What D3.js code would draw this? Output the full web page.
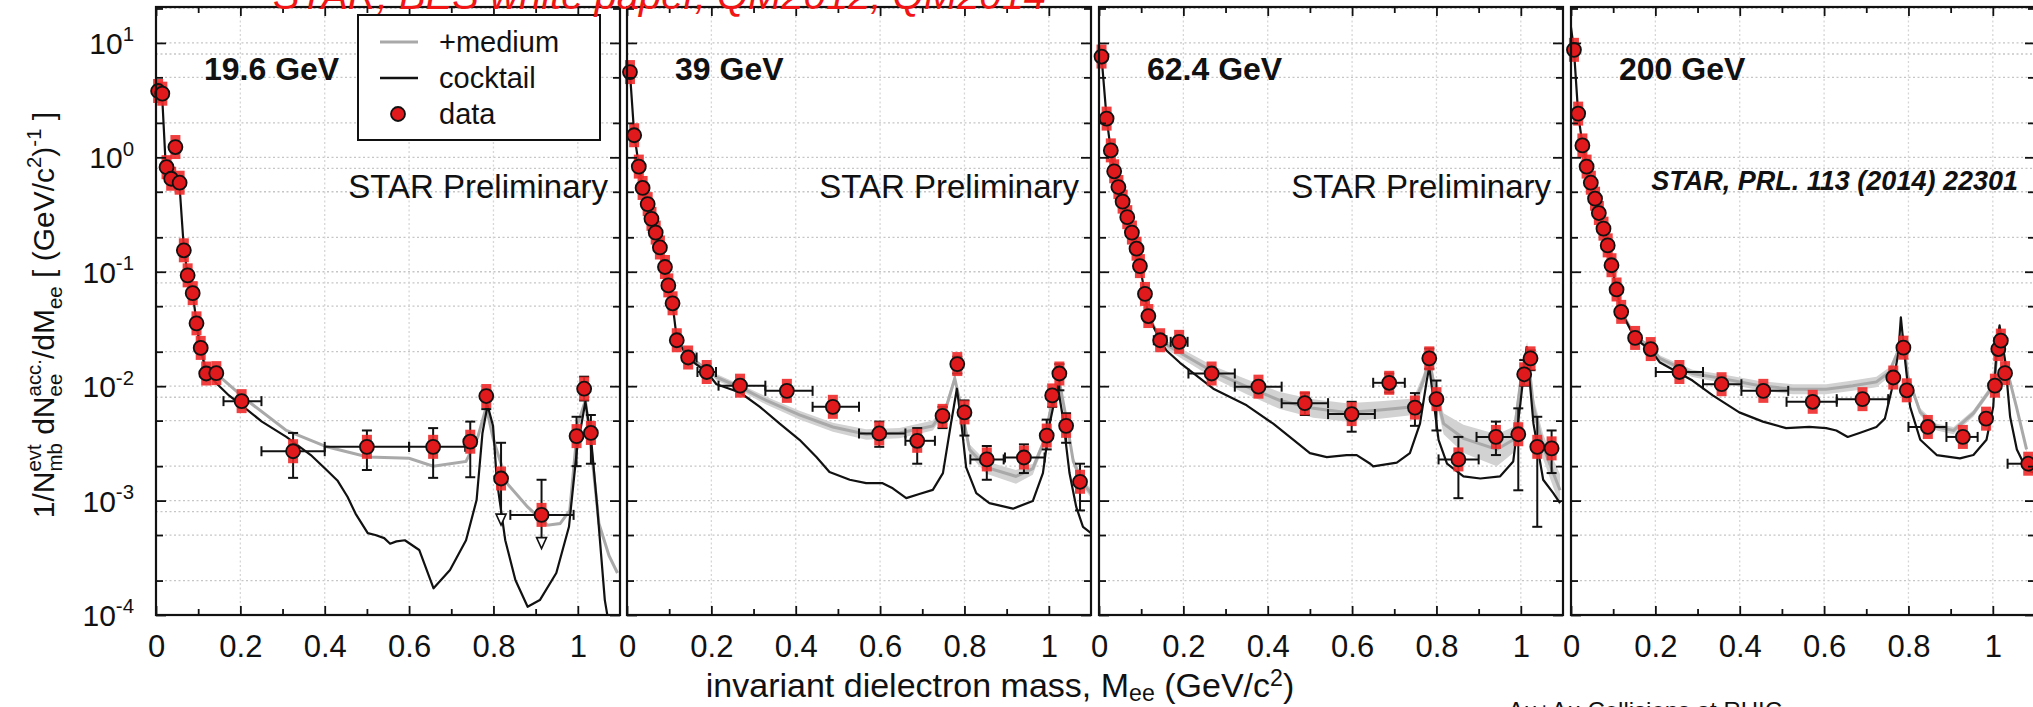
<!DOCTYPE html>
<html>
<head>
<meta charset="utf-8">
<script src="https://cdn.jsdelivr.net/npm/d3@7"></script>
<style>
  body { margin: 0; background: #fff; }
  svg { display: block; font-family: "Liberation Sans", Arial, Helvetica, sans-serif; }
  text { white-space: pre; }
</style>
</head>
<body>
<svg id="chart" width="2033" height="707"></svg>
<script>
// ---- panel texts ----
const energies = ["19.6 GeV", "39 GeV", "62.4 GeV", "200 GeV"];
const notes = ["STAR Preliminary", "STAR Preliminary", "STAR Preliminary", "STAR, PRL. 113 (2014) 22301"];
const legendLabels = ["+medium", "cocktail", "data"];

// ---- axis ticks ----
const xTickValues = [0, 0.2, 0.4, 0.6, 0.8, 1.0];
const xTickLabels = ["0", "0.2", "0.4", "0.6", "0.8", "1"];
const xMinorTicks = [0.1, 0.3, 0.5, 0.7, 0.9];
const xGridValues = [0.2, 0.4, 0.6, 0.8, 1.0];
const yDecadeExponents = [1, 0, -1, -2, -3, -4];
const yGridMantissas = [1, 2, 5, 8];
const yMinorMantissas = [2, 5];

// ---- measured spectra: [mass, yield, yLow, yHigh, xLow, xHigh, upperLimit] ----
const data196 = [
  [0.005, 3.8], [0.015, 3.6], [0.025, 0.82], [0.036, 0.65], [0.046, 1.23], [0.056, 0.60],
  [0.066, 0.154], [0.075, 0.093], [0.087, 0.065], [0.096, 0.0354], [0.106, 0.0216],
  [0.119, 0.0129], [0.143, 0.0130],
  [0.203, 0.0074, null, null, 0.16, 0.25],
  [0.325, 0.0027, 0.00158, 0.0039, 0.25, 0.40],
  [0.50, 0.00295, 0.00185, 0.0041, 0.40, 0.60],
  [0.657, 0.00295, 0.00158, 0.0043, 0.60, 0.733],
  [0.745, 0.00327, 0.0016, 0.0049, 0.733, 0.758],
  [0.783, 0.0082, 0.0063, 0.0092],
  [0.818, 0.00156, 0.00061, 0.0032, null, null, 1],
  [0.914, 0.00075, 0.00038, 0.00152, 0.84, 0.99, 1],
  [0.997, 0.00366, 0.0020, 0.0054],
  [1.015, 0.0095, 0.0075, 0.0121],
  [1.031, 0.0039, 0.0021, 0.0056]
];
const data39 = [
  [0.007, 5.56], [0.017, 1.56], [0.028, 0.83], [0.037, 0.54], [0.049, 0.39], [0.058, 0.29],
  [0.068, 0.22], [0.078, 0.163], [0.090, 0.110], [0.098, 0.076], [0.108, 0.053], [0.118, 0.0252],
  [0.145, 0.0178, null, null, 0.134, 0.165],
  [0.189, 0.0133, null, null, 0.167, 0.211],
  [0.268, 0.0101, null, null, 0.217, 0.328],
  [0.379, 0.0091, null, null, 0.328, 0.44],
  [0.488, 0.0066, null, null, 0.44, 0.55],
  [0.598, 0.00386, 0.00295, 0.0049, 0.55, 0.66],
  [0.688, 0.00333, 0.0021, 0.0043, 0.66, 0.73],
  [0.748, 0.0055, 0.0043, 0.0066],
  [0.783, 0.0156, 0.0129, 0.0181],
  [0.800, 0.0059, 0.0037, 0.0075],
  [0.853, 0.00229, 0.00152, 0.0030, 0.814, 0.893],
  [0.941, 0.00238, 0.00174, 0.0031, 0.896, 0.99],
  [0.995, 0.0037, 0.0028, 0.0051],
  [1.008, 0.0083, 0.0066, 0.0092],
  [1.025, 0.0129, 0.0092, 0.0156],
  [1.041, 0.0045, 0.0032, 0.0058],
  [1.074, 0.00146, 0.00082, 0.0021]
];
const data624 = [
  [0.006, 7.6], [0.018, 2.18], [0.028, 1.15], [0.036, 0.755], [0.046, 0.55], [0.056, 0.41],
  [0.067, 0.30], [0.078, 0.22], [0.089, 0.159], [0.097, 0.112], [0.109, 0.064], [0.117, 0.041],
  [0.145, 0.0252, null, null, 0.13, 0.16],
  [0.190, 0.0244, null, null, 0.17, 0.21],
  [0.267, 0.0129, null, null, 0.212, 0.322],
  [0.378, 0.0099, null, null, 0.322, 0.433],
  [0.488, 0.0071, 0.0056, 0.0087, 0.433, 0.543],
  [0.599, 0.0057, 0.0040, 0.0073, 0.543, 0.654],
  [0.688, 0.0107, 0.0088, 0.0129, 0.65, 0.725],
  [0.749, 0.0065, 0.0045, 0.0087],
  [0.783, 0.0175, 0.0142, 0.0213],
  [0.800, 0.0077, 0.0041, 0.0112],
  [0.852, 0.00229, 0.00105, 0.0036, 0.805, 0.90],
  [0.941, 0.0036, 0.0025, 0.0049, 0.895, 0.99],
  [0.994, 0.0038, 0.00123, 0.0064],
  [1.008, 0.0127, 0.0101, 0.0169],
  [1.023, 0.0175, 0.0138, 0.0206],
  [1.039, 0.00295, 0.00059, 0.0054],
  [1.073, 0.00286, 0.00174, 0.0041]
];
const data200 = [
  [0.007, 8.7], [0.017, 2.41], [0.027, 1.27], [0.037, 0.83], [0.047, 0.60], [0.057, 0.435],
  [0.066, 0.326], [0.077, 0.238], [0.087, 0.170], [0.096, 0.114], [0.108, 0.070], [0.119, 0.0446],
  [0.152, 0.0264], [0.189, 0.0211],
  [0.257, 0.0133, null, null, 0.201, 0.313],
  [0.357, 0.0104, null, null, 0.313, 0.404],
  [0.456, 0.0091, null, null, 0.404, 0.515],
  [0.573, 0.0073, null, null, 0.511, 0.63],
  [0.691, 0.0077, null, null, 0.63, 0.752],
  [0.764, 0.0119], [0.788, 0.0217], [0.796, 0.0092],
  [0.846, 0.0044, null, null, 0.80, 0.89],
  [0.929, 0.0036, null, null, 0.89, 0.964],
  [0.984, 0.0052], [1.005, 0.0101], [1.013, 0.0211], [1.019, 0.0250], [1.029, 0.0130],
  [1.084, 0.0021, null, null, 1.035, 1.1]
];

// ---- hadronic cocktail: [mass, yield] ----
const cocktail196 = [
  [0.0, 4.3], [0.005, 3.8], [0.015, 3.2], [0.022, 1.0], [0.03, 0.75], [0.045, 0.62], [0.056, 0.55],
  [0.066, 0.16], [0.075, 0.095], [0.087, 0.065], [0.096, 0.036], [0.104, 0.022], [0.119, 0.0135],
  [0.143, 0.0106], [0.173, 0.0083], [0.212, 0.0064], [0.251, 0.0049], [0.309, 0.0036],
  [0.367, 0.0025], [0.405, 0.00184], [0.43, 0.00150], [0.454, 0.00108], [0.473, 0.00077],
  [0.502, 0.00052], [0.52, 0.00050], [0.541, 0.00047], [0.555, 0.00042], [0.570, 0.00044],
  [0.590, 0.00045], [0.624, 0.00037], [0.658, 0.000171], [0.697, 0.000247], [0.735, 0.00045],
  [0.760, 0.00101], [0.774, 0.0039], [0.786, 0.0068], [0.799, 0.0045], [0.808, 0.0015],
  [0.828, 0.00045], [0.852, 0.000202], [0.881, 0.000118], [0.910, 0.000135], [0.949, 0.000233],
  [0.979, 0.00059], [0.998, 0.0028], [1.018, 0.0073], [1.031, 0.0036], [1.046, 0.00088],
  [1.064, 0.000135], [1.08, 0.00006]
];
const cocktail39 = [
  [0.0, 7.0], [0.007, 5.5], [0.017, 1.6], [0.028, 0.85], [0.037, 0.55], [0.049, 0.40], [0.058, 0.30],
  [0.068, 0.22], [0.078, 0.165], [0.090, 0.11], [0.098, 0.078], [0.108, 0.052], [0.118, 0.026],
  [0.145, 0.0175], [0.189, 0.0133], [0.212, 0.0104], [0.268, 0.0088], [0.315, 0.0066],
  [0.362, 0.0047], [0.409, 0.0034], [0.449, 0.0024], [0.480, 0.00178], [0.528, 0.00152],
  [0.567, 0.00142], [0.606, 0.00142], [0.630, 0.00128], [0.662, 0.00105], [0.693, 0.00114],
  [0.725, 0.00124], [0.749, 0.00174], [0.768, 0.0047], [0.782, 0.0095], [0.792, 0.0050],
  [0.804, 0.00195], [0.828, 0.00116], [0.859, 0.00095], [0.915, 0.00085], [0.962, 0.00099],
  [0.986, 0.00174], [1.002, 0.0047], [1.021, 0.0101], [1.033, 0.0054], [1.049, 0.00174],
  [1.065, 0.00088], [1.081, 0.00059], [1.1, 0.00052]
];
const cocktail624 = [
  [0.0, 9.5], [0.006, 7.6], [0.018, 2.2], [0.028, 1.15], [0.036, 0.76], [0.046, 0.55], [0.056, 0.41],
  [0.067, 0.30], [0.078, 0.22], [0.089, 0.16], [0.097, 0.112], [0.109, 0.064], [0.117, 0.041],
  [0.145, 0.025], [0.16, 0.0205], [0.192, 0.0160], [0.271, 0.0095], [0.350, 0.0068],
  [0.413, 0.0047], [0.461, 0.0034], [0.500, 0.0026], [0.540, 0.0024], [0.587, 0.0025],
  [0.611, 0.0025], [0.643, 0.0021], [0.650, 0.00199], [0.706, 0.00215], [0.737, 0.0026],
  [0.761, 0.0047], [0.777, 0.0112], [0.783, 0.0147], [0.793, 0.0075], [0.805, 0.0034],
  [0.825, 0.0021], [0.864, 0.00163], [0.904, 0.00156], [0.951, 0.00163], [0.982, 0.0022],
  [0.998, 0.0066], [1.014, 0.022], [1.030, 0.0047], [1.053, 0.00152], [1.077, 0.00116],
  [1.093, 0.00095]
];
const cocktail200 = [
  [0.0, 13.7], [0.007, 8.7], [0.017, 2.4], [0.027, 1.3], [0.037, 0.85], [0.047, 0.61], [0.057, 0.44],
  [0.066, 0.33], [0.077, 0.24], [0.087, 0.17], [0.096, 0.115], [0.108, 0.070], [0.119, 0.045],
  [0.152, 0.026], [0.19, 0.0205], [0.21, 0.0162], [0.288, 0.0112], [0.336, 0.0083],
  [0.399, 0.0059], [0.455, 0.0049], [0.510, 0.0043], [0.565, 0.0044], [0.605, 0.0043],
  [0.629, 0.0041], [0.656, 0.0036], [0.684, 0.0039], [0.724, 0.0044], [0.744, 0.0052],
  [0.760, 0.0092], [0.776, 0.0194], [0.782, 0.040], [0.792, 0.0169], [0.804, 0.0066],
  [0.828, 0.0034], [0.867, 0.0025], [0.922, 0.00234], [0.954, 0.0025], [0.985, 0.0034],
  [1.001, 0.0066], [1.010, 0.025], [1.016, 0.034], [1.029, 0.0169], [1.041, 0.0054],
  [1.057, 0.0028], [1.081, 0.00184], [1.1, 0.00174]
];

// ---- cocktail + in-medium rho: [mass, yield, bandLow, bandHigh] ----
const medium196 = [
  [0.096, 0.036], [0.106, 0.022], [0.119, 0.0135], [0.143, 0.0129], [0.212, 0.0077], [0.309, 0.0041],
  [0.405, 0.00295], [0.502, 0.0024], [0.60, 0.00234], [0.657, 0.0020], [0.735, 0.0022],
  [0.763, 0.0036], [0.783, 0.0066], [0.80, 0.0034], [0.833, 0.0014], [0.881, 0.00088],
  [0.928, 0.00061], [0.958, 0.00063], [0.981, 0.00082], [1.0, 0.0047], [1.018, 0.0075],
  [1.032, 0.0028], [1.05, 0.00063], [1.074, 0.00033], [1.094, 0.000233]
];
const medium39 = [
  [0.118, 0.026], [0.145, 0.0185], [0.189, 0.0140],
  [0.212, 0.0120, 0.0112, 0.0128], [0.275, 0.0095, 0.0089, 0.0101], [0.33, 0.0075, 0.0069, 0.0081],
  [0.409, 0.0056, 0.0051, 0.0061], [0.488, 0.0044, 0.0040, 0.0048], [0.567, 0.0038, 0.0034, 0.0042],
  [0.646, 0.0039, 0.0035, 0.0043], [0.725, 0.0045, 0.0041, 0.0050], [0.757, 0.0066, 0.0060, 0.0072],
  [0.777, 0.0117, 0.0105, 0.0128], [0.792, 0.0066, 0.0060, 0.0072], [0.812, 0.0028, 0.0025, 0.0031],
  [0.852, 0.00195, 0.00172, 0.0022], [0.922, 0.00163, 0.00140, 0.00185], [0.962, 0.0019, 0.00168, 0.0021],
  [0.99, 0.0034, 0.0031, 0.0037], [1.01, 0.0081, 0.0075, 0.0087], [1.025, 0.0110, 0.0102, 0.0118],
  [1.039, 0.0058, 0.0053, 0.0063], [1.058, 0.0022, 0.0020, 0.0024], [1.081, 0.00142, 0.00130, 0.00155],
  [1.1, 0.00116, 0.00106, 0.00126]
];
const medium624 = [
  [0.117, 0.041], [0.145, 0.026], [0.16, 0.023, 0.021, 0.025],
  [0.271, 0.0133, 0.0118, 0.0150], [0.350, 0.0099, 0.0085, 0.0115], [0.429, 0.0075, 0.0063, 0.0089],
  [0.508, 0.0064, 0.0053, 0.0077], [0.587, 0.0059, 0.0049, 0.0071], [0.666, 0.0062, 0.0052, 0.0074],
  [0.745, 0.0066, 0.0056, 0.0078], [0.769, 0.0112, 0.0098, 0.0128], [0.783, 0.0169, 0.0150, 0.0190],
  [0.797, 0.0092, 0.0080, 0.0106], [0.817, 0.0047, 0.0038, 0.0058], [0.864, 0.0035, 0.0026, 0.0046],
  [0.943, 0.0028, 0.0020, 0.0038], [0.982, 0.0034, 0.0026, 0.0044], [1.002, 0.0129, 0.0110, 0.0150],
  [1.015, 0.0217, 0.0190, 0.0245], [1.030, 0.0066, 0.0055, 0.0080], [1.053, 0.00295, 0.0023, 0.0038],
  [1.077, 0.00174, 0.0013, 0.0023], [1.093, 0.00123, 0.0009, 0.0017]
];
const medium200 = [
  [0.119, 0.045], [0.152, 0.027], [0.19, 0.022, 0.021, 0.023], [0.21, 0.0175, 0.0165, 0.0186],
  [0.288, 0.0129, 0.0120, 0.0139], [0.357, 0.0117, 0.0107, 0.0127], [0.447, 0.0101, 0.0092, 0.0111],
  [0.526, 0.0094, 0.0085, 0.0104], [0.605, 0.0094, 0.0085, 0.0104], [0.668, 0.0101, 0.0091, 0.0112],
  [0.724, 0.0109, 0.0098, 0.0121], [0.755, 0.0133, 0.0121, 0.0146], [0.776, 0.0205, 0.019, 0.022],
  [0.786, 0.028, 0.026, 0.030], [0.799, 0.0120, 0.0111, 0.0130], [0.828, 0.0059, 0.0055, 0.0064],
  [0.867, 0.0044, 0.0041, 0.0047], [0.907, 0.0041, 0.0038, 0.0044], [0.954, 0.0058, 0.0054, 0.0062],
  [1.001, 0.0101, 0.0095, 0.0108], [1.015, 0.025, 0.0235, 0.0265], [1.032, 0.0147, 0.0138, 0.0156],
  [1.056, 0.0066, 0.0062, 0.0070], [1.08, 0.0028, 0.0026, 0.0030]
];

const panels = [
  { label: energies[0], note: notes[0], data: data196, cocktail: cocktail196, medium: medium196 },
  { label: energies[1], note: notes[1], data: data39, cocktail: cocktail39, medium: medium39 },
  { label: energies[2], note: notes[2], data: data624, cocktail: cocktail624, medium: medium624 },
  { label: energies[3], note: notes[3], data: data200, cocktail: cocktail200, medium: medium200 }
];

// ---- layout ----
const W = 2033, H = 707;
const PANEL_LEFT = [156, 627, 1099, 1571];
const PANEL_W = 464, TOP = 7, BOTTOM = 615;
const X_MAX = 1.1, Y_MIN = 1e-4, Y_MAX = 20.6;
const INK = "#111";
const RED = "#e0191c";

const svg = d3.select("#chart");
svg.append("rect").attr("width", W).attr("height", H).attr("fill", "#fff");
const defs = svg.append("defs");

const y = d3.scaleLog().domain([Y_MIN, Y_MAX]).range([BOTTOM, TOP]);

const gridY = [];
const minorY = [];
yDecadeExponents.forEach(e => {
  yGridMantissas.forEach(m => { const v = m * Math.pow(10, e); if (v >= Y_MIN && v <= Y_MAX) gridY.push(v); });
  yMinorMantissas.forEach(m => { const v = m * Math.pow(10, e); if (v >= Y_MIN && v <= Y_MAX) minorY.push(v); });
});
const decadeY = yDecadeExponents.map(e => Math.pow(10, e));

// text with super/subscripts; segments: {t,k:'n'|'sup'|'sub'} or {sup,sub,k:'stack'}
function richText(parent, segs, size, attrs, subShift, supShift) {
  const text = parent.append("text").attr("font-size", size);
  Object.entries(attrs || {}).forEach(([k, v]) => text.attr(k, v));
  const small = size * 0.68;
  const subDy = size * (subShift ?? 0.26);
  const supDy = -size * (supShift ?? 0.42);
  let cur = 0, pendingDx = 0;
  function add(str, fs, shift) {
    const ts = text.append("tspan").attr("font-size", fs).text(str);
    const dy = shift - cur;
    if (dy) ts.attr("dy", dy);
    cur = shift;
    if (pendingDx) { ts.attr("dx", pendingDx); pendingDx = 0; }
    return ts;
  }
  segs.forEach(s => {
    if (s.k === "n") add(s.t, size, 0);
    else if (s.k === "sup") add(s.t, small, supDy);
    else if (s.k === "sub") add(s.t, small, subDy);
    else if (s.k === "stack") {
      const a = add(s.sup, small, supDy);
      const wa = a.node().getComputedTextLength();
      const b = add(s.sub, small, subDy);
      b.attr("dx", -wa);
      const wb = b.node().getComputedTextLength();
      if (wa > wb) pendingDx = wa - wb;
    }
  });
  return text;
}

function styleAxis(g) {
  g.select(".domain").remove();
  g.attr("font-family", null).attr("font-size", 31).attr("color", INK);
  g.selectAll(".tick line").attr("stroke-width", 1.8);
  g.selectAll(".tick text").attr("fill", INK);
}

panels.forEach((p, i) => {
  const left = PANEL_LEFT[i], right = left + PANEL_W;
  const x = d3.scaleLinear().domain([0, X_MAX]).range([left, right]);
  const g = svg.append("g");

  defs.append("clipPath").attr("id", "clip" + i)
    .append("rect").attr("x", left).attr("y", TOP).attr("width", PANEL_W).attr("height", BOTTOM - TOP);

  // grid
  const grid = g.append("g").attr("stroke", "#c6c6c6").attr("stroke-width", 1.3).attr("stroke-dasharray", "2,2.5");
  grid.selectAll("line.h").data(gridY).join("line").attr("class", "h")
    .attr("x1", left).attr("x2", right).attr("y1", d => y(d)).attr("y2", d => y(d));
  grid.selectAll("line.v").data(xGridValues).join("line").attr("class", "v")
    .attr("stroke", "#d6d6d6")
    .attr("x1", d => x(d)).attr("x2", d => x(d)).attr("y1", TOP).attr("y2", BOTTOM);

  const plot = g.append("g").attr("clip-path", `url(#clip${i})`);

  // medium band and line
  const med = p.medium.map(r => ({ m: r[0], v: r[1], lo: r[2] ?? r[1], hi: r[3] ?? r[1] }));
  plot.append("path").datum(med)
    .attr("d", d3.area().x(d => x(d.m)).y0(d => y(d.lo)).y1(d => y(d.hi)))
    .attr("fill", "#d2d2d2");
  plot.append("path").datum(med)
    .attr("d", d3.line().x(d => x(d.m)).y(d => y(d.v)))
    .attr("fill", "none").attr("stroke", "#a9a9a9").attr("stroke-width", 3);

  // cocktail
  plot.append("path").datum(p.cocktail)
    .attr("d", d3.line().x(d => x(d[0])).y(d => y(d[1])))
    .attr("fill", "none").attr("stroke", INK).attr("stroke-width", 2.2).attr("stroke-linejoin", "round");

  // data
  const pts = p.data.map(r => ({ m: r[0], v: r[1], ylo: r[2] ?? null, yhi: r[3] ?? null, xlo: r[4] ?? null, xhi: r[5] ?? null, lim: !!r[6] }));
  const eb = g.append("g").attr("stroke", INK).attr("stroke-width", 2).attr("fill", "none");
  pts.forEach(d => {
    const cx = x(d.m), cy = y(d.v);
    if (d.xlo !== null) {
      eb.append("line").attr("x1", x(d.xlo)).attr("x2", x(d.xhi)).attr("y1", cy).attr("y2", cy);
      eb.append("line").attr("x1", x(d.xlo)).attr("x2", x(d.xlo)).attr("y1", cy - 5).attr("y2", cy + 5);
      eb.append("line").attr("x1", x(d.xhi)).attr("x2", x(d.xhi)).attr("y1", cy - 5).attr("y2", cy + 5);
    }
    if (d.yhi !== null) {
      const t = y(d.yhi), b = y(d.ylo);
      eb.append("line").attr("x1", cx).attr("x2", cx).attr("y1", t).attr("y2", d.lim ? b - 11 : b);
      eb.append("line").attr("x1", cx - 5).attr("x2", cx + 5).attr("y1", t).attr("y2", t);
      if (d.lim) {
        eb.append("path").attr("d", `M${cx - 5},${b - 11}L${cx + 5},${b - 11}L${cx},${b}Z`)
          .attr("fill", "#fff").attr("stroke-width", 1.6);
      } else {
        eb.append("line").attr("x1", cx - 5).attr("x2", cx + 5).attr("y1", b).attr("y2", b);
      }
    }
  });
  // systematic boxes
  g.append("g").selectAll("rect").data(pts).join("rect")
    .attr("x", d => x(d.m) - 5).attr("y", d => y(d.v) - 12)
    .attr("width", 10).attr("height", 24).attr("fill", "#f02a2a").attr("opacity", 0.9);
  g.append("g").selectAll("circle").data(pts).join("circle")
    .attr("cx", d => x(d.m)).attr("cy", d => y(d.v)).attr("r", 7)
    .attr("fill", RED).attr("stroke", INK).attr("stroke-width", 1.8);

  // axes
  g.append("g").attr("transform", `translate(0,${BOTTOM})`)
    .call(d3.axisBottom(x).tickValues(xTickValues).tickFormat((d, k) => xTickLabels[k]).tickSize(-9).tickPadding(20))
    .call(styleAxis);
  g.append("g").attr("transform", `translate(0,${BOTTOM})`)
    .call(d3.axisBottom(x).tickValues(xMinorTicks).tickFormat("").tickSize(-6)).call(styleAxis);
  g.append("g").attr("transform", `translate(0,${TOP})`)
    .call(d3.axisTop(x).tickValues(xTickValues).tickFormat("").tickSize(-9)).call(styleAxis);
  g.append("g").attr("transform", `translate(0,${TOP})`)
    .call(d3.axisTop(x).tickValues(xMinorTicks).tickFormat("").tickSize(-6)).call(styleAxis);
  g.append("g").attr("transform", `translate(${left},0)`)
    .call(d3.axisLeft(y).tickValues(decadeY).tickFormat("").tickSize(-10)).call(styleAxis);
  g.append("g").attr("transform", `translate(${left},0)`)
    .call(d3.axisLeft(y).tickValues(minorY).tickFormat("").tickSize(-7)).call(styleAxis);
  g.append("g").attr("transform", `translate(${right},0)`)
    .call(d3.axisRight(y).tickValues(decadeY).tickFormat("").tickSize(-10)).call(styleAxis);
  g.append("g").attr("transform", `translate(${right},0)`)
    .call(d3.axisRight(y).tickValues(minorY).tickFormat("").tickSize(-7)).call(styleAxis);

  // frame
  g.append("rect").attr("x", left).attr("y", TOP).attr("width", PANEL_W).attr("height", BOTTOM - TOP)
    .attr("fill", "none").attr("stroke", INK).attr("stroke-width", 2.2);

  // labels
  g.append("text").attr("x", left + 48).attr("y", 80).attr("font-size", 32).attr("font-weight", "bold")
    .attr("fill", INK).text(p.label);
  if (i < 3) {
    g.append("text").attr("x", right - 12).attr("y", 198).attr("text-anchor", "end")
      .attr("font-size", 33).attr("fill", INK).text(p.note);
  } else {
    g.append("text").attr("x", left + 447).attr("y", 190).attr("text-anchor", "end")
      .attr("font-size", 27).attr("font-weight", "bold").attr("font-style", "italic")
      .attr("fill", INK).text(p.note);
  }

  // y tick labels on the first panel
  if (i === 0) {
    yDecadeExponents.forEach(e => {
      const t = richText(svg, [{ t: "10", k: "n" }, { t: String(e), k: "sup" }], 30, { fill: INK });
      const w = t.node().getBBox().width;
      t.attr("x", 134 - w).attr("y", y(Math.pow(10, e)) + 11);
    });
  }
});

// legend
const lg = svg.append("g");
lg.append("rect").attr("x", 358).attr("y", 15).attr("width", 242).attr("height", 125)
  .attr("fill", "#fff").attr("stroke", INK).attr("stroke-width", 2);
lg.append("line").attr("x1", 380).attr("x2", 418).attr("y1", 42).attr("y2", 42)
  .attr("stroke", "#a9a9a9").attr("stroke-width", 3);
lg.append("line").attr("x1", 380).attr("x2", 418).attr("y1", 78).attr("y2", 78)
  .attr("stroke", INK).attr("stroke-width", 2.4);
lg.append("circle").attr("cx", 398).attr("cy", 114).attr("r", 7)
  .attr("fill", RED).attr("stroke", INK).attr("stroke-width", 1.8);
legendLabels.forEach((t, k) => {
  lg.append("text").attr("x", 439).attr("y", 52 + k * 36).attr("font-size", 29).attr("fill", INK).text(t);
});

// y axis title
const yt = svg.append("g");
const ytText = richText(yt, [
  { t: "1/N", k: "n" }, { sup: "evt", sub: "mb", k: "stack" },
  { t: " dN", k: "n" }, { sup: "acc.", sub: "ee", k: "stack" },
  { t: "/dM", k: "n" }, { t: "ee", k: "sub" },
  { t: " [ (GeV/c", k: "n" }, { t: "2", k: "sup" }, { t: ")", k: "n" }, { t: "-1", k: "sup" },
  { t: " ]", k: "n" }
], 30, { fill: INK });
const ytw = ytText.node().getBBox().width;
yt.attr("transform", `translate(54,${315 + ytw / 2}) rotate(-90)`);

// x axis title
const xt = richText(svg, [
  { t: "invariant dielectron mass, M", k: "n" }, { t: "ee", k: "sub" },
  { t: " (GeV/c", k: "n" }, { t: "2", k: "sup" }, { t: ")", k: "n" }
], 34, { fill: INK }, 0.12, 0.33);
const xtw = xt.node().getBBox().width;
xt.attr("x", 1000 - xtw / 2).attr("y", 697);

// header and footer notes
svg.append("text").attr("x", 273).attr("y", 9).attr("font-size", 40).attr("font-style", "italic")
  .attr("fill", "#f21515").text("STAR, BES white paper, QM2012, QM2014");
svg.append("text").attr("x", 1508).attr("y", 719).attr("font-size", 24).attr("fill", INK)
  .text("Au+Au Collisions at RHIC");
</script>
</body>
</html>
